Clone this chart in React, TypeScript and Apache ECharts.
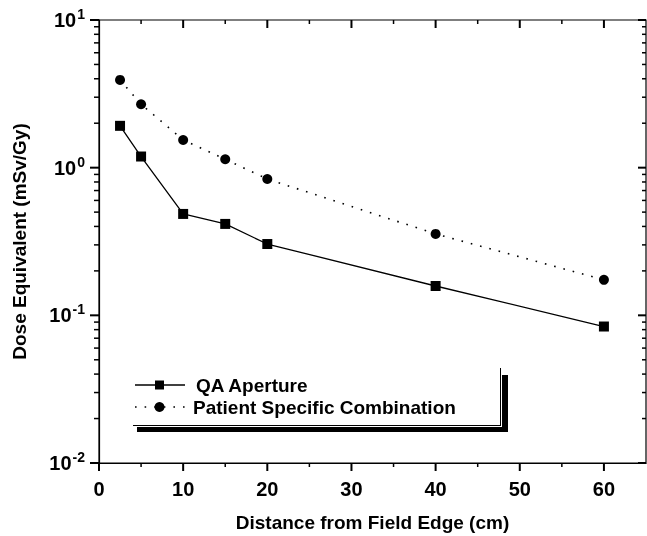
import React, { useEffect, useRef } from "react";
import * as echarts from "echarts";

// ---- data ----
const distances = [2.5, 5, 10, 15, 20, 40, 60];
const qaAperture = [1.92, 1.19, 0.486, 0.416, 0.304, 0.158, 0.084];
const patientSpecific = [3.93, 2.69, 1.54, 1.14, 0.838, 0.356, 0.174];
const seriesNames = ["QA Aperture", "Patient Specific Combination"];

const X_MIN = 0;
const X_MAX = 65;
const X_LAST_LABEL = 60;
const Y_MIN = 0.01;
const Y_MAX = 10;
const xMajorTicks = [0, 10, 20, 30, 40, 50, 60];
const xMinorTicks = [5, 15, 25, 35, 45, 55];
const yMajorTicks = [0.01, 0.1, 1, 10];
const yMinorTicks = [
  0.02, 0.03, 0.04, 0.05, 0.06, 0.07, 0.08, 0.09,
  0.2, 0.3, 0.4, 0.5, 0.6, 0.7, 0.8, 0.9,
  2, 3, 4, 5, 6, 7, 8, 9,
];

const FONT = "Liberation Sans, Arial, sans-serif";
const BLACK = "#000000";
const DOT_DASH = [1.6, 8];

// side codes: 0 bottom (out), 1 top (in), 2 left (out), 3 right (in)
// rows: [x value, y value, side, length, width]; the off-axis value is a reference
// point inside the plot, the tick is placed on the grid edge by the renderer.
const X_REF = 30;
const Y_REF = 1;
const tickRows: number[][] = [
  ...xMajorTicks.map((v) => [v, Y_REF, 0, 8, 2]),
  ...xMinorTicks.map((v) => [v, Y_REF, 0, 4, 1.5]),
  ...xMajorTicks.filter((v) => v > X_MIN).map((v) => [v, Y_REF, 1, 8, 2]),
  ...xMinorTicks.map((v) => [v, Y_REF, 1, 4, 1.5]),
  ...yMajorTicks.map((v) => [X_REF, v, 2, 9, 2]),
  ...yMinorTicks.map((v) => [X_REF, v, 2, 5, 1.5]),
  ...yMajorTicks.map((v) => [X_REF, v, 3, 8, 2]),
  ...yMinorTicks.map((v) => [X_REF, v, 3, 4, 1.5]),
];

const legendFont = `bold 19px ${FONT}`;

export default function App() {
  const ref = useRef<HTMLDivElement>(null);

  useEffect(() => {
    if (!ref.current) return;
    const chart = echarts.init(ref.current, undefined, { renderer: "svg" });

    chart.setOption({
      animation: false,
      grid: {
        left: 99,
        top: 20,
        width: 547,
        height: 443,
        show: true,
        borderColor: BLACK,
        borderWidth: 1.2,
        outerBoundsMode: "none",
      },
      graphic: [
        // legend box shadow and frame
        { type: "rect", shape: { x: 502, y: 375, width: 6, height: 57 }, style: { fill: BLACK }, silent: true },
        { type: "rect", shape: { x: 137, y: 427, width: 371, height: 5 }, style: { fill: BLACK }, silent: true },
        { type: "line", shape: { x1: 500.5, y1: 368, x2: 500.5, y2: 426 }, style: { stroke: BLACK, lineWidth: 1 }, silent: true },
        { type: "line", shape: { x1: 133, y1: 425.5, x2: 501, y2: 425.5 }, style: { stroke: BLACK, lineWidth: 1 }, silent: true },
        // legend item 1
        { type: "line", shape: { x1: 135, y1: 385, x2: 185, y2: 385 }, style: { stroke: BLACK, lineWidth: 1.3 }, silent: true },
        { type: "rect", shape: { x: 155, y: 380.5, width: 9, height: 9 }, style: { fill: BLACK }, silent: true },
        { type: "text", x: 196, y: 385, style: { text: seriesNames[0], font: legendFont, fill: BLACK, verticalAlign: "middle" }, silent: true },
        // legend item 2
        { type: "line", shape: { x1: 135, y1: 407, x2: 185, y2: 407 }, style: { stroke: BLACK, lineWidth: 1.6, lineDash: DOT_DASH }, silent: true },
        { type: "circle", shape: { cx: 159.5, cy: 407, r: 5 }, style: { fill: BLACK }, silent: true },
        { type: "text", x: 193, y: 407, style: { text: seriesNames[1], font: legendFont, fill: BLACK, verticalAlign: "middle" }, silent: true },
      ],
      xAxis: {
        type: "value",
        min: X_MIN,
        max: X_MAX,
        interval: 10,
        name: "Distance from Field Edge (cm)",
        nameLocation: "middle",
        nameGap: 50,
        nameTextStyle: { fontFamily: FONT, fontWeight: "bold", fontSize: 19, color: BLACK },
        splitLine: { show: false },
        axisLine: { show: true, lineStyle: { color: BLACK, width: 1.2 } },
        axisTick: { show: false },
        axisLabel: {
          margin: 16,
          fontFamily: FONT,
          fontWeight: "bold",
          fontSize: 20,
          color: BLACK,
          formatter: (v: number) => (v > X_LAST_LABEL ? "" : String(v)),
        },
      },
      yAxis: {
        type: "log",
        logBase: 10,
        min: Y_MIN,
        max: Y_MAX,
        name: "Dose Equivalent (mSv/Gy)",
        nameLocation: "middle",
        nameGap: 70,
        nameTextStyle: { fontFamily: FONT, fontWeight: "bold", fontSize: 19, color: BLACK },
        splitLine: { show: false },
        axisLine: { show: true, lineStyle: { color: BLACK, width: 1.2 } },
        axisTick: { show: false },
        axisLabel: {
          margin: 14,
          formatter: (v: number) => `{b|10}{s|${Math.round(Math.log10(v))}}`,
          rich: {
            b: { fontFamily: FONT, fontWeight: "bold", fontSize: 20, lineHeight: 26, color: BLACK },
            s: { fontFamily: FONT, fontWeight: "bold", fontSize: 14, lineHeight: 14, verticalAlign: "top", color: BLACK, padding: [0, 0, 0, 1] },
          },
        },
      },
      series: [
        {
          type: "custom",
          clip: false,
          encode: { x: 0, y: 1 },
          data: tickRows,
          renderItem: (params: any, api: any) => {
            const cs = params.coordSys;
            const p = api.coord([api.value(0), api.value(1)]);
            const side = api.value(2);
            const len = api.value(3);
            const w = api.value(4);
            let x1 = p[0];
            let y1 = p[1];
            let x2 = p[0];
            let y2 = p[1];
            if (side === 0) {
              y1 = cs.y + cs.height;
              y2 = y1 + len;
            } else if (side === 1) {
              y1 = cs.y;
              y2 = y1 + len;
            } else if (side === 2) {
              x1 = cs.x;
              x2 = x1 - len;
            } else {
              x1 = cs.x + cs.width;
              x2 = x1 - len;
            }
            return {
              type: "line",
              shape: { x1, y1, x2, y2 },
              style: { stroke: BLACK, lineWidth: w },
            };
          },
        },
        {
          name: seriesNames[0],
          type: "line",
          data: distances.map((d, i) => [d, qaAperture[i]]),
          symbol: "rect",
          symbolSize: 10,
          itemStyle: { color: BLACK },
          lineStyle: { color: BLACK, width: 1.3, type: "solid" },
        },
        {
          name: seriesNames[1],
          type: "line",
          data: distances.map((d, i) => [d, patientSpecific[i]]),
          symbol: "circle",
          symbolSize: 10,
          itemStyle: { color: BLACK },
          lineStyle: { color: BLACK, width: 1.6, type: DOT_DASH },
        },
      ],
    });

    return () => chart.dispose();
  }, []);

  return <div ref={ref} style={{ position: "fixed", left: 0, top: 0, width: 647, height: 536 }} />;
}
